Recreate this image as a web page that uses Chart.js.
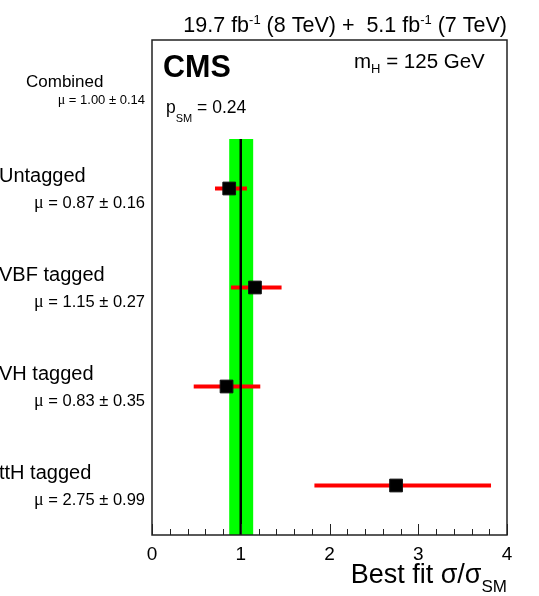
<!DOCTYPE html>
<html><head><meta charset="utf-8">
<script src="https://cdn.jsdelivr.net/npm/chart.js@4.4.0/dist/chart.umd.min.js"></script>
<style>html,body{margin:0;padding:0;background:#fff;overflow:hidden}#wrap{width:539px;height:596px;position:relative}</style>
</head><body><div id="wrap"><canvas id="c" width="539" height="596"></canvas></div>
<script>
// ---- data ----
const categories = ['Untagged', 'VBF tagged', 'VH tagged', 'ttH tagged'];
const muLabels = ['0.87 \u00b1 0.16', '1.15 \u00b1 0.27', '0.83 \u00b1 0.35', '2.75 \u00b1 0.99'];
const bestFit = [0.87, 1.16, 0.84, 2.75];
const errLow = [0.71, 0.89, 0.47, 1.83];
const errHigh = [1.07, 1.46, 1.22, 3.82];
const rowPos = [3.5, 2.5, 1.5, 0.5];
const combinedLabel = 'Combined';
const combinedMu = '1.00 \u00b1 0.14';
const combinedFit = 1.00;
const combinedBand = [0.87, 1.14];
const combinedPos = 4.5;
const bandTop = 4.0;
const xTicks = [0, 1, 2, 3, 4];
const xMinorPerMajor = 5;
const yRange = [0, 5];

const SANS = '"Liberation Sans", Arial, Helvetica, sans-serif';
const SERIF = '"Liberation Serif", "Times New Roman", serif';

function drawRich(ctx, parts, x, y, align) {
  let total = 0;
  parts.forEach(p => {
    ctx.font = (p.bold ? 'bold ' : '') + p.size + 'px ' + (p.family || SANS);
    p.w = ctx.measureText(p.t).width;
    total += p.w;
  });
  let cx = align === 'right' ? x - total : x;
  ctx.textAlign = 'left';
  ctx.textBaseline = 'alphabetic';
  parts.forEach(p => {
    ctx.font = (p.bold ? 'bold ' : '') + p.size + 'px ' + (p.family || SANS);
    ctx.fillStyle = '#000';
    ctx.fillText(p.t, cx, y + (p.dy || 0));
    cx += p.w;
  });
}

const cmsPlugin = {
  id: 'cms',
  beforeDatasetsDraw(chart) {
    const { ctx, scales } = chart;
    const x = scales.x, y = scales.y;
    ctx.save();
    ctx.fillStyle = '#00ff00';
    const x0 = x.getPixelForValue(combinedBand[0]);
    const x1 = x.getPixelForValue(combinedBand[1]);
    const yt = y.getPixelForValue(bandTop);
    ctx.fillRect(x0, yt, x1 - x0, y.getPixelForValue(yRange[0]) - yt);
    ctx.restore();
  },
  afterDatasetsDraw(chart) {
    const { ctx, chartArea, scales } = chart;
    const x = scales.x;
    ctx.save();
    ctx.strokeStyle = '#222';
    ctx.lineWidth = 1;
    for (let i = 0; i < xTicks.length; i++) {
      for (let k = 0; k < xMinorPerMajor; k++) {
        if (i === xTicks.length - 1 && k > 0) break;
        const v = xTicks[i] + k * (xTicks[1] - xTicks[0]) / xMinorPerMajor;
        const px = Math.round(x.getPixelForValue(v)) + 0.5;
        const len = k === 0 ? 11 : 6;
        ctx.beginPath();
        ctx.moveTo(px, chartArea.bottom);
        ctx.lineTo(px, chartArea.bottom - len);
        ctx.stroke();
      }
    }
    ctx.strokeStyle = '#222';
    ctx.lineWidth = 1.5;
    ctx.strokeRect(chartArea.left, chartArea.top, chartArea.right - chartArea.left, chartArea.bottom - chartArea.top);
    ctx.restore();
  },
  afterDraw(chart) {
    const { ctx, chartArea, scales } = chart;
    const y = scales.y;
    ctx.save();
    drawRich(ctx, [
      { t: '19.7 fb', size: 21.5 }, { t: '-1', size: 13, dy: -8 },
      { t: ' (8 TeV) +  5.1 fb', size: 21.5 }, { t: '-1', size: 13, dy: -8 },
      { t: ' (7 TeV)', size: 21.5 }
    ], chartArea.right, 32, 'right');
    drawRich(ctx, [{ t: 'CMS', size: 30.5, bold: true }], 163, 77, 'left');
    drawRich(ctx, [
      { t: 'm', size: 20.5 }, { t: 'H', size: 13, dy: 5 }, { t: ' = 125 GeV', size: 20.5 }
    ], 354, 68, 'left');
    drawRich(ctx, [
      { t: 'p', size: 17.5 }, { t: 'SM', size: 11, dy: 9 }, { t: ' = 0.24', size: 17.5 }
    ], 166, 113, 'left');
    const yc = y.getPixelForValue(combinedPos);
    drawRich(ctx, [{ t: combinedLabel, size: 17 }], 26, yc - 3, 'left');
    drawRich(ctx, [{ t: '\u03bc', size: 14, family: SERIF }, { t: ' = ' + combinedMu, size: 13 }], 145, yc + 14, 'right');
    categories.forEach((c, i) => {
      const yp = y.getPixelForValue(rowPos[i]);
      drawRich(ctx, [{ t: c, size: 20 }], -1, yp - 7, 'left');
      drawRich(ctx, [{ t: '\u03bc', size: 18, family: SERIF }, { t: ' = ' + muLabels[i], size: 16.5 }], 145, yp + 19, 'right');
    });
    drawRich(ctx, [
      { t: 'Best fit \u03c3/\u03c3', size: 27 }, { t: 'SM', size: 17, dy: 9 }
    ], chartArea.right, 583, 'right');
    ctx.restore();
  }
};

const errorSets = bestFit.map((v, i) => ({
  type: 'line',
  data: [{ x: errLow[i], y: rowPos[i] }, { x: errHigh[i], y: rowPos[i] }],
  borderColor: '#ff0000',
  borderWidth: 4,
  pointRadius: 0,
  showLine: true,
  order: 3
}));

new Chart(document.getElementById('c'), {
  type: 'scatter',
  data: {
    datasets: [
      {
        data: bestFit.map((v, i) => ({ x: v, y: rowPos[i] })),
        pointStyle: 'rect',
        pointRadius: 9,
        backgroundColor: '#000',
        borderColor: '#111',
        borderWidth: 1,
        order: 0
      },
      {
        type: 'line',
        data: [{ x: combinedFit, y: yRange[0] }, { x: combinedFit, y: bandTop }],
        borderColor: '#000',
        borderWidth: 2.5,
        pointRadius: 0,
        showLine: true,
        order: 1
      },
      ...errorSets
    ]
  },
  options: {
    responsive: false,
    devicePixelRatio: 1,
    animation: false,
    events: [],
    layout: { padding: { left: 152, right: 32, top: 40, bottom: 0 } },
    plugins: { legend: { display: false }, tooltip: { enabled: false } },
    scales: {
      x: {
        type: 'linear', min: xTicks[0], max: xTicks[xTicks.length - 1],
        afterBuildTicks: s => { s.ticks = xTicks.map(v => ({ value: v })); },
        ticks: { color: '#000', font: { size: 19, family: SANS }, padding: 0, maxRotation: 0 },
        grid: { display: false },
        border: { display: false },
        afterFit: s => { s.height = 61; }
      },
      y: { type: 'linear', min: yRange[0], max: yRange[1], display: false }
    }
  },
  plugins: [cmsPlugin]
});
</script>
</body></html>
